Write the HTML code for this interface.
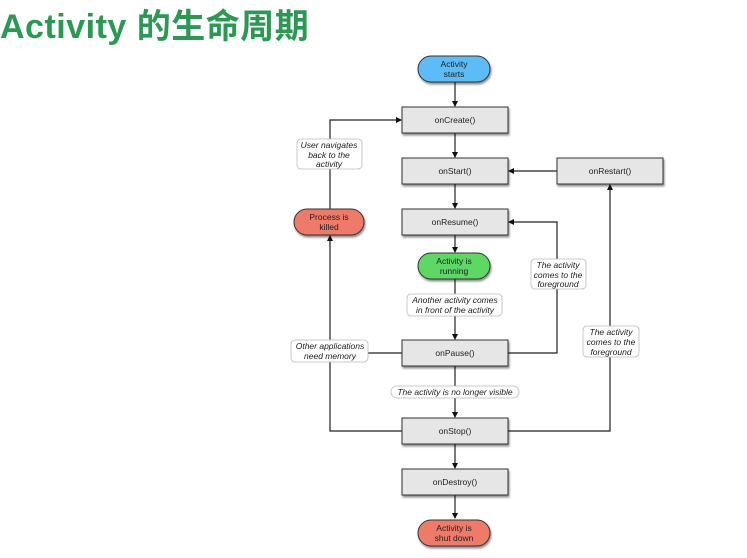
<!DOCTYPE html>
<html><head><meta charset="utf-8"><style>
html,body{margin:0;padding:0;background:#fff;width:747px;height:558px;overflow:hidden}
svg{display:block}
text{font-family:"Liberation Sans",sans-serif;font-size:8.5px;fill:#222}
.i{font-style:italic}
.t{font-family:"Liberation Sans","Noto Sans CJK SC",sans-serif;font-size:34px;font-weight:bold;fill:#2a9a52;letter-spacing:0.5px}
</style></head><body>
<svg width="747" height="558" viewBox="0 0 747 558">
<defs>
<marker id="a" markerWidth="6" markerHeight="6" refX="5" refY="3" orient="auto" markerUnits="userSpaceOnUse"><path d="M0,0 L6,3 L0,6 z" fill="#111"/></marker>
<filter id="s" x="-10%" y="-20%" width="130%" height="160%"><feDropShadow dx="1" dy="2" stdDeviation="1" flood-color="#000" flood-opacity="0.45"/></filter>
</defs>
<text class="t" x="0" y="38">Activity 的生命周期</text>
<g stroke="#222" stroke-width="1.2" fill="none">
<line x1="455" y1="82" x2="455" y2="106" marker-end="url(#a)"/>
<line x1="455" y1="133" x2="455" y2="157" marker-end="url(#a)"/>
<line x1="455" y1="184" x2="455" y2="208" marker-end="url(#a)"/>
<line x1="455" y1="235" x2="455" y2="252" marker-end="url(#a)"/>
<line x1="455" y1="279" x2="455" y2="339" marker-end="url(#a)"/>
<line x1="455" y1="366" x2="455" y2="417" marker-end="url(#a)"/>
<line x1="455" y1="444" x2="455" y2="468" marker-end="url(#a)"/>
<line x1="455" y1="495" x2="455" y2="518" marker-end="url(#a)"/>
<line x1="557" y1="171" x2="509" y2="171" marker-end="url(#a)"/>
<polyline points="508,353 557,353 557,222 509,222" marker-end="url(#a)"/>
<polyline points="508,431 610,431 610,185" marker-end="url(#a)"/>
<polyline points="402,431 330,431 330,236" marker-end="url(#a)"/>
<line x1="402" y1="353" x2="330" y2="353"/>
<polyline points="330,209 330,120 401,120" marker-end="url(#a)"/>
</g>
<g filter="url(#s)" stroke="#333" stroke-width="1">
<rect x="402" y="107" width="106" height="26" fill="#e6e6e6"/>
<rect x="402" y="158" width="106" height="26" fill="#e6e6e6"/>
<rect x="557" y="158" width="106" height="26" fill="#e6e6e6"/>
<rect x="402" y="209" width="106" height="26" fill="#e6e6e6"/>
<rect x="402" y="340" width="106" height="26" fill="#e6e6e6"/>
<rect x="402" y="418" width="106" height="26" fill="#e6e6e6"/>
<rect x="402" y="469" width="106" height="26" fill="#e6e6e6"/>
<rect x="418" y="56" width="72" height="26" rx="13" fill="#5bbcf5"/>
<rect x="418" y="253" width="72" height="26" rx="13" fill="#5dd865"/>
<rect x="418" y="520" width="72" height="26" rx="13" fill="#ef7a6a"/>
<rect x="294" y="209" width="70" height="26" rx="13" fill="#ef7a6a"/>
</g>
<g fill="#fff" stroke="#bbb" stroke-width="0.8">
<rect x="297" y="139" width="65" height="30" rx="4"/>
<rect x="407" y="294" width="95" height="22" rx="4"/>
<rect x="291" y="340" width="77" height="22" rx="4"/>
<rect x="531" y="259" width="55" height="30" rx="4"/>
<rect x="583" y="326" width="56" height="31" rx="4"/>
<rect x="391" y="386" width="128" height="12" rx="6"/>
</g>
<g text-anchor="middle">
<text x="455" y="123">onCreate()</text>
<text x="455" y="174">onStart()</text>
<text x="610" y="174">onRestart()</text>
<text x="455" y="225">onResume()</text>
<text x="455" y="356">onPause()</text>
<text x="455" y="434">onStop()</text>
<text x="455" y="485">onDestroy()</text>
<text x="454" y="67">Activity</text><text x="454" y="77">starts</text>
<text x="454" y="264">Activity is</text><text x="454" y="274">running</text>
<text x="454" y="531">Activity is</text><text x="454" y="541">shut down</text>
<text x="329" y="220">Process is</text><text x="329" y="230">killed</text>
<text class="i" x="329" y="148">User navigates</text><text class="i" x="329" y="158">back to the</text><text class="i" x="329" y="167">activity</text>
<text class="i" x="455" y="303">Another activity comes</text><text class="i" x="455" y="313">in front of the activity</text>
<text class="i" x="330" y="349">Other applications</text><text class="i" x="330" y="359">need memory</text>
<text class="i" x="558" y="268">The activity</text><text class="i" x="558" y="278">comes to the</text><text class="i" x="558" y="287">foreground</text>
<text class="i" x="611" y="335">The activity</text><text class="i" x="611" y="345">comes to the</text><text class="i" x="611" y="355">foreground</text>
<text class="i" x="455" y="395">The activity is no longer visible</text>
</g>
</svg>
</body></html>
